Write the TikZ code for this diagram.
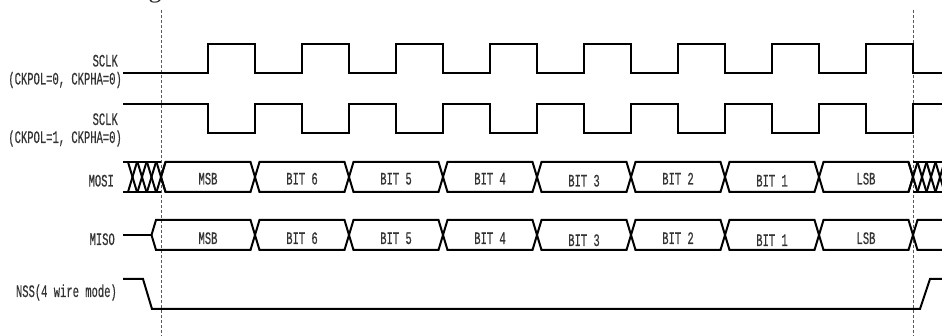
\documentclass[tikz,border=0pt]{standalone}
\usepackage{fontspec}
\newfontfamily\lblfont[FakeStretch=0.6,FakeBold=0.4]{Liberation Mono}
\newfontfamily\titlefont{Liberation Serif}
\begin{document}
\begin{tikzpicture}[x=1pt,y=-1pt,
  sig/.style={line width=2pt, black, line join=miter},
  guide/.style={line width=1pt, black!65, dash pattern=on 3pt off 2pt},
  lbl/.style={font=\lblfont\fontsize{17.5}{19}\selectfont, text=black!80, inner sep=0pt},
  ]
\useasboundingbox (0,0) rectangle (942,336);

% cropped title fragment
\node[font=\titlefont\fontsize{26}{28}\selectfont, text=black!85, anchor=base, inner sep=0pt] (title) at (155,-2.5) {g};

% guide lines
\coordinate (g1t) at (161,10); \coordinate (g1b) at (161,336);
\coordinate (g2t) at (913,10); \coordinate (g2b) at (913,336);
\draw[guide] (g1t) -- (g1b);
\draw[guide] (g2t) -- (g2b);

% labels
\node[lbl, anchor=base east] (sclk1) at (118,66.5) {SCLK};
\node[lbl, anchor=base east] (mode1) at (122,84.5) {(CKPOL=0, CKPHA=0)};
\node[lbl, anchor=base east] (sclk2) at (118,125) {SCLK};
\node[lbl, anchor=base east] (mode2) at (122,143) {(CKPOL=1, CKPHA=0)};
\node[lbl, anchor=base east] (mosi) at (114,186.5) {MOSI};
\node[lbl, anchor=base east] (miso) at (115,245) {MISO};
\node[lbl, anchor=base east] (nss) at (117,297) {NSS(4 wire mode)};

% SCLK (CKPOL=0)
\draw[sig] (123,73) foreach \k in {0,...,7} {
  -- ({208+94*\k},73) -- ({208+94*\k},44) -- ({255+94*\k},44) -- ({255+94*\k},73) } -- (942,73);
% SCLK (CKPOL=1)
\draw[sig] (123,104) foreach \k in {0,...,7} {
  -- ({208+94*\k},104) -- ({208+94*\k},133) -- ({255+94*\k},133) -- ({255+94*\k},104) } -- (942,104);

% MOSI
\draw[sig] (123,162) -- (161,162);
\draw[sig] (123,192) -- (161,192);
\foreach \c in {132.5,142,151.5,161,913,922,931,940} {
  \draw[sig] ({\c-4.5},162) -- ({\c+4.5},192);
  \draw[sig] ({\c-4.5},192) -- ({\c+4.5},162);
}
\draw[sig] (913,162) -- (942,162);
\draw[sig] (913,192) -- (942,192);
\foreach \t [count=\k from 0] in {MSB,BIT 6,BIT 5,BIT 4,BIT 3,BIT 2,BIT 1,LSB} {
  \pgfmathsetmacro\a{161+94*\k}
  \pgfmathsetmacro\b{255+94*\k}
  \pgfmathsetmacro\dy{(\k==4 || \k==6) ? 2 : 0}
  \draw[sig] ({\a+4.5},162) -- ({\b-4.5},162) -- (\b,177) -- ({\b-4.5},192) -- ({\a+4.5},192) -- (\a,177) -- cycle;
  \node[lbl, anchor=base] (mosi-\k) at ({208+94*\k},{184.5+\dy}) {\t};
}

% MISO
\draw[sig] (123,235) -- (151.5,235);
\foreach \t [count=\k from 0] in {MSB,BIT 6,BIT 5,BIT 4,BIT 3,BIT 2,BIT 1,LSB} {
  \pgfmathsetmacro\a{\k==0 ? 151.5 : 161+94*\k}
  \pgfmathsetmacro\b{255+94*\k}
  \pgfmathsetmacro\dy{(\k==4 || \k==6) ? 2 : 0}
  \draw[sig] ({\a+4.5},220) -- ({\b-4.5},220) -- (\b,235) -- ({\b-4.5},250) -- ({\a+4.5},250) -- (\a,235) -- cycle;
  \node[lbl, anchor=base] (miso-\k) at ({208+94*\k},{244+\dy}) {\t};
}
\draw[sig] (942,220) -- (917.5,220) -- (913,235) -- (917.5,250) -- (942,250);

% NSS
\draw[sig] (123,279) -- (143,279) -- (152,309) -- (920,309) -- (930,279) -- (942,279);
\end{tikzpicture}
\end{document}
